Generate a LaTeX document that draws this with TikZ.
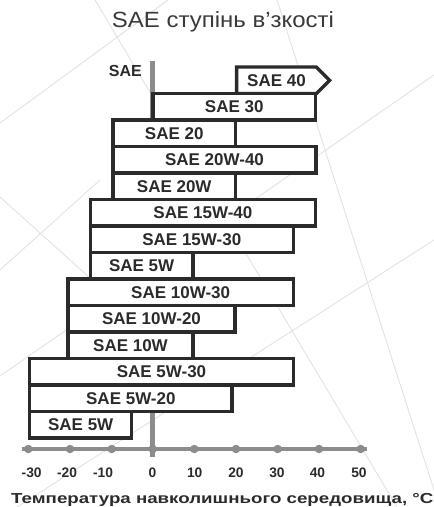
\documentclass[tikz,border=0pt]{standalone}
\usepackage{fontspec}
\setmainfont{Liberation Sans}
\usetikzlibrary{positioning,shapes.symbols}
\definecolor{inkgray}{HTML}{2B2B2B}
\definecolor{axisgray}{HTML}{8C8C8C}
\definecolor{meshgray}{HTML}{E2E2E2}
\definecolor{titlegray}{HTML}{3A3A3A}
\newcommand{\widetext}[2]{\scalebox{#1}[1]{#2}}
\tikzset{
    grade/.style={
                draw=inkgray,
                line width=3.3pt,
                line join=miter,
                fill=white,
                inner sep=0pt,
                minimum height=26.5pt,
                text=inkgray,
                font=\fontsize{17}{18}\selectfont\bfseries
            },
        gradearrow/.style={
                grade,
                shape=signal,
                signal to=east,
                signal pointer angle=90
            },
        tickdot/.style={
                circle,
                fill=axisgray,
                inner sep=0pt,
                minimum size=8.5pt
            },
        ticklabel/.style={
                anchor=base,
                inner sep=0pt,
                text=inkgray,
                font=\fontsize{13.8}{15}\selectfont\bfseries
            },
        axisline/.style={
                draw=axisgray,
                line width=4.5pt
            },
        meshline/.style={
                draw=meshgray,
                line width=0.9pt
            },
}

\begin{document}
\begin{tikzpicture}[x=1pt,y=-1pt]
  \useasboundingbox (0,0) rectangle (434,507);
  % Background mesh
  \draw[meshline] (95,0) -- (397,507);
  \draw[meshline] (277,0) -- (434,490);
  \draw[meshline] (434,75) -- (0,376);
  \draw[meshline] (434,240) -- (0,518);
  \draw[meshline] (0,123) -- (168,0);
  \draw[meshline] (0,197) -- (110,296);
  \draw[meshline] (0,270) -- (100,180);
  % Title
  \node[anchor=base,inner sep=0pt,text=titlegray,font=\fontsize{22}{24}\selectfont] (title) at (223,27.3) {\widetext{1.09}{SAE ступінь в’зкості}};
  \node[anchor=base,inner sep=0pt,text=inkgray,font=\fontsize{16}{18}\selectfont\bfseries] (saelabel) at (125.4,76.7) {SAE};
  % Zero line
  \coordinate (zerotop) at (152.5,61);
  \coordinate (zerobot) at (152.5,457);
  \draw[axisline] (zerotop) -- (zerobot);
  % Grades
  \node[gradearrow,minimum width=93pt] (sae40) at (276.5,80.3) {SAE 40};
  \node[grade,minimum width=162.5pt] (sae30) at (234.25,106.8) {SAE 30};
  \node[grade,minimum width=122.5pt] (sae20) at (174.25,133.3) {SAE 20};
  \node[grade,minimum width=203pt] (sae20w40) at (214.5,159.8) {SAE 20W-40};
  \node[grade,minimum width=122.5pt] (sae20w) at (174.25,186.3) {SAE 20W};
  \node[grade,minimum width=225.2pt] (sae15w40) at (202.9,212.8) {SAE 15W-40};
  \node[grade,minimum width=203pt] (sae15w30) at (191.8,239.3) {SAE 15W-30};
  \node[grade,minimum width=102.7pt] (sae5wtop) at (141.65,265.8) {SAE 5W};
  \node[grade,minimum width=225.3pt] (sae10w30) at (180.65,292.3) {SAE 10W-30};
  \node[grade,minimum width=167pt] (sae10w20) at (151.5,318.8) {SAE 10W-20};
  \node[grade,minimum width=125pt] (sae10w) at (130.5,345.3) {SAE 10W};
  \node[grade,minimum width=263.6pt] (sae5w30) at (161.5,371.8) {SAE 5W-30};
  \node[grade,minimum width=202.3pt] (sae5w20) at (130.85,398.3) {SAE 5W-20};
  \node[grade,minimum width=102pt] (sae5w) at (80.7,424.8) {SAE 5W};
  % Temperature axis
  \coordinate (axleft) at (22,449);
  \coordinate (axright) at (367,449);
  \draw[axisline] (axleft) -- (axright);
  \node[tickdot] (tm30) at (28.3,449) {};
  \node[tickdot] (tm20) at (70,449) {};
  \node[tickdot] (tm10) at (111.7,449) {};
  \node[tickdot] (t0) at (152.7,449) {};
  \node[tickdot] (t10) at (194.3,449) {};
  \node[tickdot] (t20) at (236,449) {};
  \node[tickdot] (t30) at (277.7,449) {};
  \node[tickdot] (t40) at (319,449) {};
  \node[tickdot] (t50) at (360.7,449) {};
  \node[ticklabel] (lm30) at (31.7,477) {-30};
  \node[ticklabel] (lm20) at (67,477) {-20};
  \node[ticklabel] (lm10) at (103,477) {-10};
  \node[ticklabel] (l0) at (152.5,477) {0};
  \node[ticklabel] (l10) at (194.7,477) {10};
  \node[ticklabel] (l20) at (236,477) {20};
  \node[ticklabel] (l30) at (277,477) {30};
  \node[ticklabel] (l40) at (317.5,477) {40};
  \node[ticklabel] (l50) at (359,477) {50};
  \node[ticklabel,font=\fontsize{14.5}{16}\selectfont\bfseries] (axtitle) at (222.3,503.3) {\widetext{1.29}{Температура навколишнього середовища, °C}};
\end{tikzpicture}
\end{document}
